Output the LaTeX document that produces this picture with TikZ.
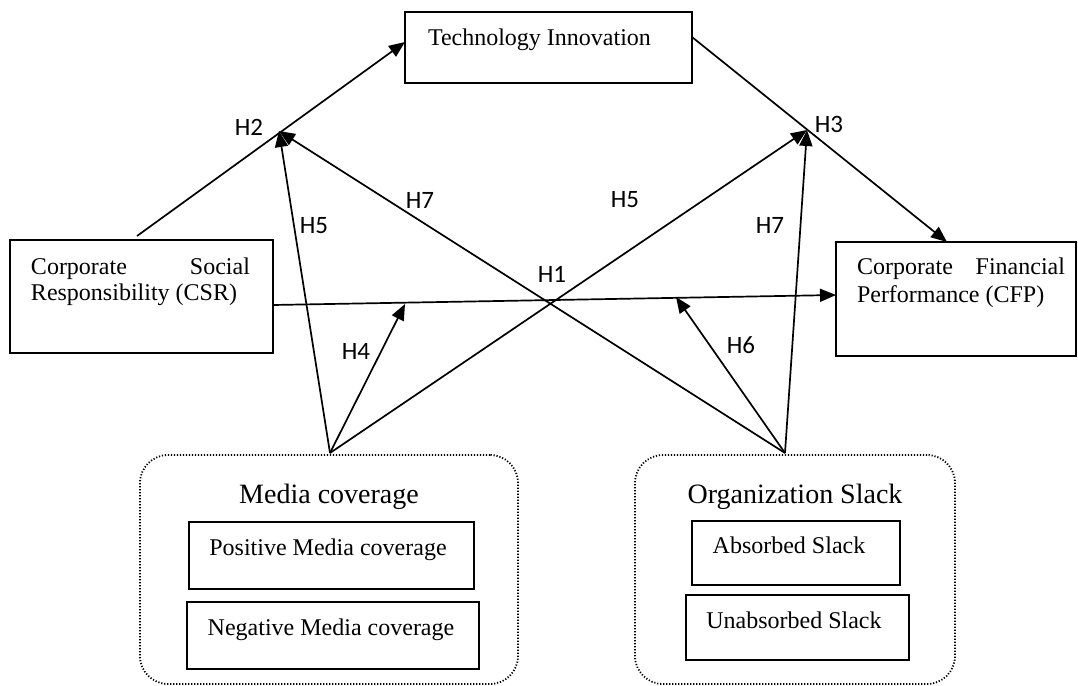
\documentclass[tikz,border=0pt]{standalone}
\usepackage{fontspec}
\setmainfont{Liberation Serif}
\newfontfamily\hfont{Carlito}
\usetikzlibrary{arrows.meta}
\tikzset{
  box/.style={draw, line width=0.8pt, inner sep=0pt, outer sep=0pt},
  groupbox/.style={draw, line width=0.9pt, dash pattern=on 0.6pt off 0.9pt, rounded corners=14pt, inner sep=0pt, outer sep=0pt},
  txt/.style={inner sep=0pt, outer sep=0pt, font=\fontsize{12}{13}\selectfont},
  ttl/.style={inner sep=0pt, outer sep=0pt, font=\fontsize{14}{16}\selectfont},
  hlab/.style={inner sep=0pt, outer sep=0pt, font=\hfont\fontsize{12.5}{14}\selectfont},
  conn/.style={line width=0.85pt, -{Triangle[length=8pt,width=6.5pt]}},
  plain/.style={line width=0.85pt}
}
\begin{document}
\begin{tikzpicture}[x=0.5pt,y=-0.5pt]
\useasboundingbox (0,0) rectangle (1078,686);

% main boxes
\node[box, minimum width=143.5pt, minimum height=35.5pt] (tech) at (548.5,47.5) {};
\node[box, minimum width=131.5pt, minimum height=56.5pt] (csr) at (141.5,296.5) {};
\node[box, minimum width=120pt, minimum height=57pt] (cfp) at (956,299) {};

\node[txt, anchor=base west] (techtxt) at (428,45) {Technology Innovation};
\node[txt, anchor=base west] (csrA) at (31,274) {\makebox[109.5pt][s]{Corporate\hfill Social}};
\node[txt, anchor=base west] (csrB) at (31,300) {Responsibility (CSR)};
\node[txt, anchor=base west] (cfpA) at (857,274) {\makebox[104pt][s]{Corporate\hfill Financial}};
\node[txt, anchor=base west] (cfpB) at (857,302) {Performance (CFP)};

% group boxes
\node[groupbox, minimum width=189pt, minimum height=114.5pt] (media) at (329,569.5) {};
\node[groupbox, minimum width=160pt, minimum height=114.5pt] (slack) at (795,569.5) {};
\node[ttl, anchor=base] (mediattl) at (329,503) {Media coverage};
\node[ttl, anchor=base] (slackttl) at (795,503) {Organization Slack};

\node[box, minimum width=142.5pt, minimum height=33.5pt] (pos) at (331.5,555.5) {};
\node[box, minimum width=146pt, minimum height=33.5pt] (neg) at (333,635.5) {};
\node[box, minimum width=104pt, minimum height=32pt] (abs) at (796,553) {};
\node[box, minimum width=111.5pt, minimum height=32.5pt] (unabs) at (797.5,627.5) {};
\node[txt, anchor=base] (postxt) at (328,555) {Positive Media coverage};
\node[txt, anchor=base] (negtxt) at (331,635) {Negative Media coverage};
\node[txt, anchor=base] (abstxt) at (789,553) {Absorbed Slack};
\node[txt, anchor=base] (unabstxt) at (794,628) {Unabsorbed Slack};

% connector points
\coordinate (csrout) at (137,236);
\coordinate (techin) at (405,42);
\coordinate (techout) at (692,37);
\coordinate (cfpin) at (947,242);
\coordinate (csrright) at (273,305);
\coordinate (cfpleft) at (836,295);
\coordinate (mcsrc) at (330,453);
\coordinate (ossrc) at (785,453);
\coordinate (htwo) at (279,131);
\coordinate (hthree) at (807,130);
\coordinate (hfour) at (405,304);
\coordinate (hsix) at (676,297);

% connectors
\draw[conn] (csrout) -- (techin);
\draw[conn] (techout) -- (cfpin);
\draw[conn] (csrright) -- (cfpleft);
\draw[conn] (mcsrc) -- (htwo);
\draw[conn] (mcsrc) -- (hfour);
\draw[conn] (mcsrc) -- (hthree);
\draw[conn] (ossrc) -- (htwo);
\draw[conn] (ossrc) -- (hthree);
\draw[conn] (ossrc) -- (hsix);

% hypothesis labels
\node[hlab] (lH1) at (552,274) {H1};
\node[hlab] (lH2) at (249,127) {H2};
\node[hlab] (lH3) at (829,124) {H3};
\node[hlab] (lH4) at (356,351) {H4};
\node[hlab] (lH5a) at (314,225.5) {H5};
\node[hlab] (lH5b) at (625,200) {H5};
\node[hlab] (lH6) at (741,345) {H6};
\node[hlab] (lH7a) at (420,200) {H7};
\node[hlab] (lH7b) at (770,225.5) {H7};
\end{tikzpicture}
\end{document}
